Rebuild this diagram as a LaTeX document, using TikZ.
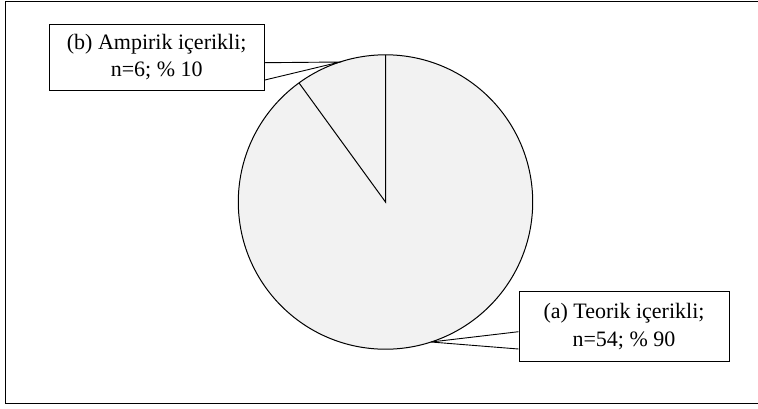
\documentclass[tikz,border=0pt]{standalone}
\usepackage{fontspec}
\setmainfont{Liberation Serif}
\usetikzlibrary{calc}
\definecolor{piefill}{HTML}{F2F2F2}
\begin{document}
\begin{tikzpicture}[x=1pt,y=-1pt,line width=1pt,
  labelbox/.style={draw,fill=white,align=center,inner sep=0pt,
    font=\fontsize{22}{27.5}\selectfont},
  leader/.style={draw,line width=0.9pt}]
\useasboundingbox (0,0) rectangle (758,408);
\draw (770,1) -- (5,1) -- (5,403.5) -- (770,403.5);
% pie
\coordinate (c) at (385.5,202);
\coordinate (ptop) at (385.5,54.8);
\coordinate (pslice) at (299,82.9);
\coordinate (tipb) at (340,62);
\coordinate (tipa) at (431,342);
\fill[piefill] (c) circle[radius=147.2];
\draw (c) circle[radius=147.2];
\draw (ptop) -- (c) -- (pslice);
% label boxes
\node[labelbox,minimum width=215.3pt,minimum height=66pt] (b) at (156.7,57)
  {(b) Ampirik içerikli;\\ n=6; \% 10};
\node[labelbox,minimum width=210pt,minimum height=70pt] (a) at (624,326.7)
  {(a) Teorik içerikli;\\ n=54; \% 90};
% leaders
\draw[leader] ($(b.east)+(0,5.7)$) -- (tipb) -- ($(b.east)+(0,23)$);
\draw[leader] ($(a.west)+(0,5)$) -- (tipa) -- ($(a.west)+(0,22.3)$);
\end{tikzpicture}
\end{document}
